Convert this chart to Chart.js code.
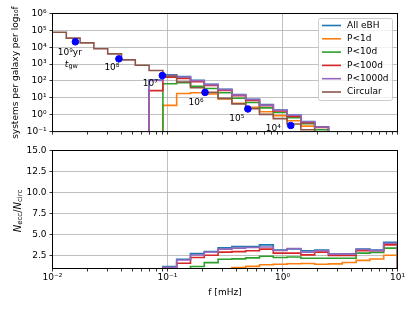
<!DOCTYPE html>
<html>
<head>
<meta charset="utf-8">
<script src="https://cdn.jsdelivr.net/npm/chart.js@4.4.1/dist/chart.umd.min.js"></script>
<style>
  html, body { margin: 0; padding: 0; background: #fff; }
  #wrap { position: relative; width: 415px; height: 311px; }
  canvas { position: absolute; left: 0; }
  #top { top: 0; }
  #bottom { top: 140px; }
</style>
</head>
<body>
<div id="wrap">
  <canvas id="top" width="415" height="140"></canvas>
  <canvas id="bottom" width="415" height="171"></canvas>
</div>
<script>
// histogram bin edges in mHz (log spaced, 25 bins)
const binEdges = [0.01, 0.01318, 0.01738, 0.02291, 0.0302, 0.03981, 0.05248, 0.06918, 0.0912,
  0.1202, 0.1585, 0.2089, 0.2754, 0.3631, 0.4786, 0.631, 0.8318, 1.0965, 1.4454, 1.9055,
  2.5119, 3.3113, 4.3652, 5.7544, 7.5858, 10];

const seriesLabels = ["All eBH", "P<1d", "P<10d", "P<100d", "P<1000d", "Circular"];
const seriesColors = ["#1f77b4", "#ff7f0e", "#2ca02c", "#d62728", "#9467bd", "#8c564b"];

// systems per galaxy per log10 f (bins 0-19)
const nAll   = [0, 0, 0, 0, 0, 0, 0, 112, 234, 182, 110, 63, 32, 15.8, 8.3, 4.0, 1.9, 0.91, 0.40, 0.19];
const nP1    = [0, 0, 0, 0, 0, 0, 0, 0, 3.6, 18, 20, 17, 8.6, 4.8, 2.8, 1.5, 0.89, 0.44, 0.21, 0.09];
const nP10   = [0, 0, 0, 0, 0, 0, 0, 0, 68, 80, 49, 36, 19.9, 9.4, 5.3, 2.54, 1.36, 0.66, 0.29, 0.13];
const nP100  = [0, 0, 0, 0, 0, 0, 0, 27, 168, 142, 92, 54, 27.3, 13.2, 7.1, 3.47, 1.66, 0.79, 0.34, 0.176];
const nP1000 = [0, 0, 0, 0, 0, 0, 0, 108, 220, 174, 104, 61, 30.7, 15.0, 8.05, 3.73, 1.85, 0.94, 0.38, 0.186];
const nCirc  = [77600, 34700, 18200, 8130, 4070, 1780, 851, 417, 191, 87, 40, 21, 9.3, 4.4, 2.3, 1.05, 0.59, 0.28, 0.13, 0.06];

// N_ecc / N_circ (bins 0-24)
const ratioAll   = [0, 0, 0, 0, 0, 0, 0, 0.27, 1.23, 2.1, 2.77, 3.0, 3.45, 3.6, 3.6, 3.8, 3.2, 3.33, 3.1, 3.18, 2.7, 2.75, 3.3, 3.2, 4.1];
const ratioP1    = [0, 0, 0, 0, 0, 0, 0, 0, 0.019, 0.21, 0.5, 0.8, 0.92, 1.1, 1.25, 1.45, 1.5, 1.57, 1.6, 1.51, 1.55, 1.72, 1.96, 2.12, 2.58];
const ratioP10   = [0, 0, 0, 0, 0, 0, 0, 0, 0.36, 0.9, 1.23, 1.7, 2.1, 2.14, 2.26, 2.45, 2.3, 2.36, 2.22, 2.22, 2.22, 2.22, 2.82, 2.9, 3.42];
const ratioP100  = [0, 0, 0, 0, 0, 0, 0, 0.065, 0.88, 1.63, 2.3, 2.58, 2.94, 3.0, 3.1, 3.3, 2.82, 2.82, 2.62, 2.94, 2.54, 2.54, 3.1, 3.1, 3.8];
const ratioP1000 = [0, 0, 0, 0, 0, 0, 0, 0.26, 1.15, 2.0, 2.6, 2.95, 3.3, 3.42, 3.5, 3.55, 3.13, 3.37, 2.94, 3.1, 2.7, 2.72, 3.25, 3.12, 4.0];

// gravitational-wave inspiral time markers
const tgwFreq   = [0.0158, 0.0378, 0.0902, 0.212, 0.50, 1.18];
const tgwCount  = [21000, 2050, 210, 21, 2.2, 0.23];
const tgwLabels = ["10⁹yr", "10⁸", "10⁷", "10⁶", "10⁵", "10⁴"];

const yTopTicks = [0.1, 1, 10, 100, 1e3, 1e4, 1e5, 1e6];
const yRatioTicks = [2.5, 5, 7.5, 10, 12.5, 15];
const xTicks = [];
[0.01, 0.1, 1].forEach(d => { for (let m = 1; m < 10; m++) xTicks.push(+(m * d).toPrecision(3)); });
xTicks.push(10);

Chart.defaults.font.family = "'DejaVu Sans', sans-serif";
Chart.defaults.font.size = 9;
Chart.defaults.color = "#000";

const SUP = {"-": "⁻", "0": "⁰", "1": "¹", "2": "²", "3": "³", "4": "⁴", "5": "⁵", "6": "⁶", "7": "⁷", "8": "⁸", "9": "⁹"};
function isDecade(v) {
  const l = Math.log10(v);
  return Math.abs(l - Math.round(l)) < 1e-6;
}
function powLabel(v) {
  const e = Math.round(Math.log10(v));
  return "10" + String(e).split("").map(c => SUP[c]).join("");
}

function stepPoints(values, floor) {
  const pts = values.map((v, i) => ({x: binEdges[i], y: v > 0 ? v : floor}));
  const n = values.length;
  pts.push({x: binEdges[n], y: values[n - 1]});
  pts.push({x: binEdges[n], y: floor});
  return pts;
}

function xAxis(showLabels, height, title) {
  return {
    type: "logarithmic",
    min: 0.01,
    max: 10,
    afterBuildTicks: s => { s.ticks = xTicks.map(v => ({value: v})); },
    afterFit: s => { s.height = height; },
    border: {display: false},
    grid: {
      color: c => (c.tick && isDecade(c.tick.value)) ? "#b0b0b0" : "rgba(0,0,0,0)",
      tickColor: "#000",
      lineWidth: 0.8,
      tickLength: 3,
    },
    ticks: {
      autoSkip: false,
      maxRotation: 0,
      padding: 1,
      callback: v => (showLabels && isDecade(v)) ? powLabel(v) : "",
    },
    title: title,
  };
}

const frame = {
  id: "frame",
  afterDatasetsDraw(chart) {
    const {ctx, chartArea: a} = chart;
    ctx.save();
    ctx.strokeStyle = "#000";
    ctx.lineWidth = 1;
    ctx.strokeRect(a.left, a.top, a.right - a.left, a.bottom - a.top);
    ctx.restore();
  }
};

// t_gw labels next to the blue dots
const labelOffsets = [[-5.5, 11], [-7, 9], [-12, 8.5], [-9, 10], [-11, 10], [-17.5, 3]];
const tgwText = {
  id: "tgwText",
  afterDatasetsDraw(chart) {
    const {ctx, scales} = chart;
    ctx.save();
    ctx.fillStyle = "#000";
    ctx.textAlign = "center";
    ctx.textBaseline = "middle";
    ctx.font = "9px 'DejaVu Sans'";
    tgwLabels.forEach((t, i) => {
      const px = scales.x.getPixelForValue(tgwFreq[i]);
      const py = scales.y.getPixelForValue(tgwCount[i]);
      ctx.fillText(t, px + labelOffsets[i][0], py + labelOffsets[i][1]);
    });
    const px = scales.x.getPixelForValue(tgwFreq[0]) - 4;
    const py = scales.y.getPixelForValue(tgwCount[0]) + 22.5;
    ctx.textAlign = "left";
    ctx.font = "italic 9px 'DejaVu Sans'";
    const tw = ctx.measureText("t").width;
    ctx.font = "6.5px 'DejaVu Sans'";
    const gw = ctx.measureText("gw").width;
    const x0 = px - (tw + gw) / 2;
    ctx.font = "italic 9px 'DejaVu Sans'";
    ctx.fillText("t", x0, py);
    ctx.font = "6.5px 'DejaVu Sans'";
    ctx.fillText("gw", x0 + tw, py + 2.5);
    ctx.restore();
  }
};

const legendBox = {
  id: "legendBox",
  afterDatasetsDraw(chart) {
    const ctx = chart.ctx;
    ctx.save();
    ctx.beginPath();
    ctx.roundRect(318.5, 18.5, 74, 82, 2);
    ctx.fillStyle = "rgba(255,255,255,0.8)";
    ctx.fill();
    ctx.strokeStyle = "#cccccc";
    ctx.lineWidth = 1;
    ctx.stroke();
    ctx.font = "9px 'DejaVu Sans'";
    ctx.textBaseline = "middle";
    ctx.textAlign = "left";
    seriesLabels.forEach((lab, r) => {
      const y = 25.5 + r * 13.3;
      ctx.beginPath();
      ctx.moveTo(322, y);
      ctx.lineTo(341, y);
      ctx.strokeStyle = seriesColors[r];
      ctx.lineWidth = 1.6;
      ctx.stroke();
      ctx.fillStyle = "#000";
      ctx.fillText(lab, 347, y);
    });
    ctx.restore();
  }
};

const ratioTitle = {
  id: "ratioTitle",
  afterDraw(chart) {
    const ctx = chart.ctx;
    const parts = [
      ["N", "italic 10px 'DejaVu Sans'", 0],
      ["ecc", "7px 'DejaVu Sans'", 2.5],
      ["/", "10px 'DejaVu Sans'", 0],
      ["N", "italic 10px 'DejaVu Sans'", 0],
      ["circ", "7px 'DejaVu Sans'", 2.5],
    ];
    ctx.save();
    ctx.translate(18, 71);
    ctx.rotate(-Math.PI / 2);
    ctx.fillStyle = "#000";
    ctx.textBaseline = "middle";
    let total = 0;
    parts.forEach(p => { ctx.font = p[1]; total += ctx.measureText(p[0]).width; });
    let x = -total / 2;
    parts.forEach(p => {
      ctx.font = p[1];
      ctx.fillText(p[0], x, p[2]);
      x += ctx.measureText(p[0]).width;
    });
    ctx.restore();
  }
};

const topSeries = [nAll, nP1, nP10, nP100, nP1000, nCirc];
const ratioSeries = [ratioAll, ratioP1, ratioP10, ratioP100, ratioP1000];

const topDatasets = topSeries.map((vals, i) => ({
  label: seriesLabels[i],
  data: stepPoints(vals, 1e-3),
  borderColor: seriesColors[i],
  borderWidth: 1.6,
  pointRadius: 0,
  fill: false,
  stepped: "before",
  order: 6 - i,
}));
topDatasets.push({
  type: "scatter",
  label: "t_gw",
  data: tgwFreq.map((f, i) => ({x: f, y: tgwCount[i]})),
  backgroundColor: "#0000ff",
  borderColor: "#0000ff",
  pointRadius: 3.3,
  order: 0,
});

new Chart(document.getElementById("top"), {
  type: "line",
  data: {datasets: topDatasets},
  options: {
    responsive: false,
    animation: false,
    events: [],
    layout: {padding: {left: 0, right: 17.5, top: 13.5, bottom: 0}},
    plugins: {legend: {display: false}, tooltip: {enabled: false}},
    scales: {
      x: xAxis(false, 7.5, {display: false}),
      y: {
        type: "logarithmic",
        min: 0.1,
        max: 1e6,
        afterBuildTicks: s => { s.ticks = yTopTicks.map(v => ({value: v})); },
        afterFit: s => { s.width = 52.5; },
        border: {display: false},
        grid: {color: "#b0b0b0", tickColor: "#000", lineWidth: 0.8, tickLength: 3},
        ticks: {autoSkip: false, padding: 3, callback: v => powLabel(v)},
        title: {display: true, text: "systems per galaxy per log₁₀f", font: {size: 9}, padding: {top: 10, bottom: 0}},
      },
    },
  },
  plugins: [frame, tgwText, legendBox],
});

new Chart(document.getElementById("bottom"), {
  type: "line",
  data: {
    datasets: ratioSeries.map((vals, i) => ({
      label: seriesLabels[i],
      data: stepPoints(vals, 0),
      borderColor: seriesColors[i],
      borderWidth: 1.6,
      pointRadius: 0,
      fill: false,
      stepped: "before",
      order: 6 - i,
    })),
  },
  options: {
    responsive: false,
    animation: false,
    events: [],
    layout: {padding: {left: 0, right: 17.5, top: 10.5, bottom: 0}},
    plugins: {legend: {display: false}, tooltip: {enabled: false}},
    scales: {
      x: xAxis(true, 42.5, {display: true, text: "f [mHz]", font: {size: 9}, padding: {top: 0, bottom: 12.9}}),
      y: {
        type: "linear",
        min: 1,
        max: 15,
        afterBuildTicks: s => { s.ticks = yRatioTicks.map(v => ({value: v})); },
        afterFit: s => { s.width = 52.5; },
        border: {display: false},
        grid: {color: "#b0b0b0", tickColor: "#000", lineWidth: 0.8, tickLength: 3},
        ticks: {autoSkip: false, padding: 3, callback: v => v.toFixed(1)},
      },
    },
  },
  plugins: [frame, ratioTitle],
});
</script>
</body>
</html>
